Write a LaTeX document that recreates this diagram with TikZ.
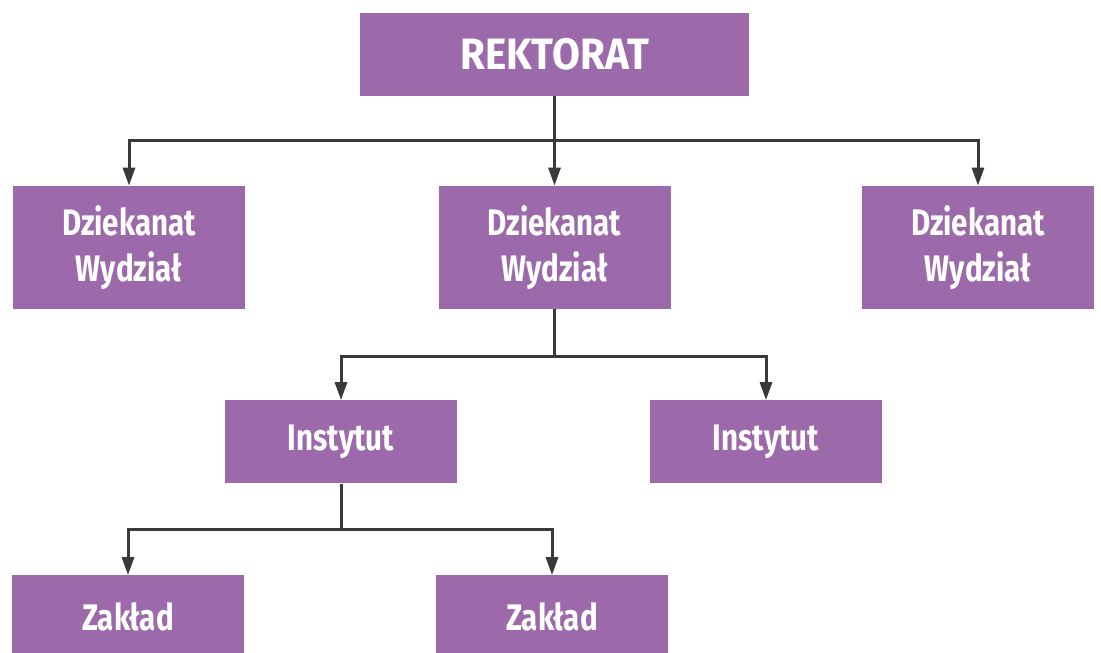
\documentclass[tikz,border=0pt]{standalone}
\usepackage{fontspec}
\usepackage{tikz}
\usetikzlibrary{arrows.meta, positioning}
\newfontfamily\unitfont[FakeStretch=0.8]{Fira Sans}
\newfontfamily\headfont[FakeStretch=0.92]{Fira Sans}
\definecolor{unitpurple}{RGB}{156,106,170}
\definecolor{linegray}{RGB}{58,58,62}
\tikzstyle{arrow} = [line width=0.06cm, draw=linegray, -{Triangle[length=0.36cm, width=0.24cm]}]
\tikzstyle{unit} = [
rectangle, minimum width=4.64cm, minimum height=1.66cm, inner sep=0pt,
text centered, align=center, fill=unitpurple, text=white,
font=\unitfont\bfseries\fontsize{21}{26}\selectfont
]
\tikzstyle{unit_D} = [unit, minimum height=2.46cm]
\tikzstyle{head} = [
unit, minimum width=7.78cm,
font=\headfont\bfseries\fontsize{25}{30}\selectfont
]

\begin{document}
\begin{tikzpicture}[node distance=3.86cm]
	\useasboundingbox (0,0) rectangle (22.02,-13.06);
	% Jednostki
	\node (rekt) [head] at (11.09,-1.09) {REKTORAT};
	\node (dz_1) [unit_D, below of=rekt, xshift=-8.51cm] {Dziekanat\\Wydział};
	\node (dz_2) [unit_D, below of=rekt] {Dziekanat\\Wydział};
	\node (dz_3) [unit_D, below of=rekt, xshift=8.47cm] {Dziekanat\\Wydział};
	\node (in_1) [unit, below of=dz_2, xshift=-4.27cm, yshift=-0.03cm] {Instytut};
	\node (in_2) [unit, below of=dz_2, xshift=4.23cm, yshift=-0.03cm] {Instytut};
	\node (za_1) [unit, below of=in_1, xshift=-4.26cm, yshift=0.36cm] {Zakład};
	\node (za_2) [unit, below of=in_1, xshift=4.22cm, yshift=0.36cm] {Zakład};

	% Connections
	\draw [arrow] (rekt.south) -- ++(0,-0.88) -| (dz_1.north);
	\draw [arrow] (rekt.south) -- (dz_2.north);
	\draw [arrow] (rekt.south) -- ++(0,-0.88) -| (dz_3.north);
	\draw [arrow] (dz_2.south) -- ++(0,-0.94) -| (in_1.north);
	\draw [arrow] (dz_2.south) -- ++(0,-0.94) -| (in_2.north);
	\draw [arrow] (in_1.south) -- ++(0,-0.92) -| (za_1.north);
	\draw [arrow] (in_1.south) -- ++(0,-0.92) -| (za_2.north);
\end{tikzpicture}
\end{document}
